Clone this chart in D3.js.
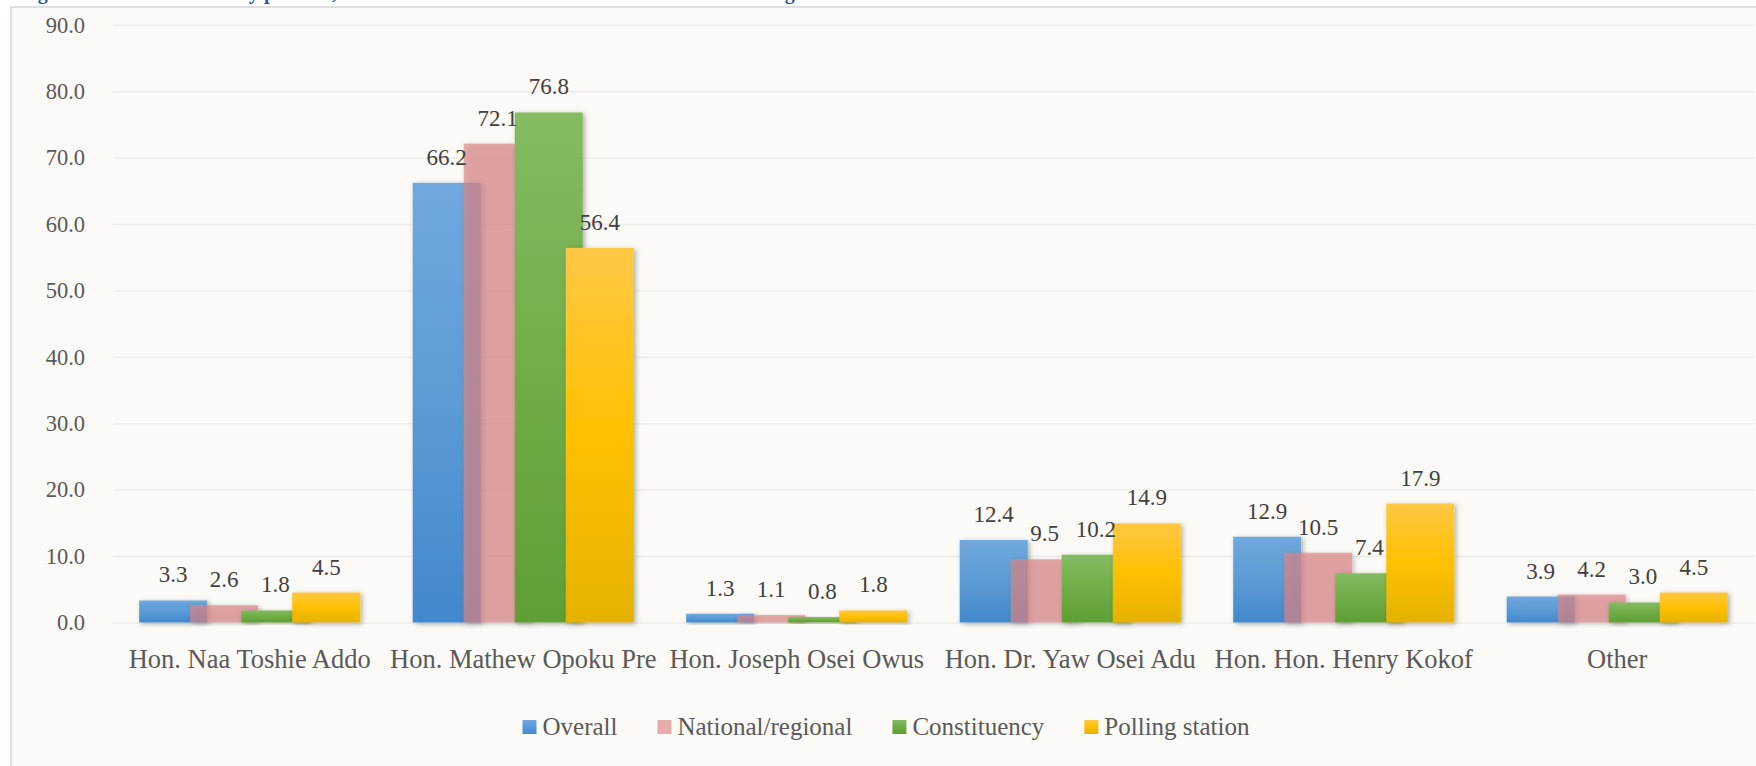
<!DOCTYPE html>
<html>
<head>
<meta charset="utf-8">
<script src="https://cdn.jsdelivr.net/npm/d3@7"></script>
<style>
  html, body { margin: 0; padding: 0; background: #ffffff; }
  svg { display: block; }
  svg text { font-family: "Liberation Serif", serif; }
</style>
</head>
<body>
<div id="chart"></div>
<script>
let width = 1756;
let height = 766;
const FONT = "Liberation Serif";

// Data
const categories = ["Hon. Naa Toshie Addo", "Hon. Mathew Opoku Pre", "Hon. Joseph Osei Owus",
  "Hon. Dr. Yaw Osei Adu", "Hon. Hon. Henry Kokof", "Other"];
const seriesNames = ["Overall", "National/regional", "Constituency", "Polling station"];
const overall = [3.3, 66.2, 1.3, 12.4, 12.9, 3.9];
const national = [2.6, 72.1, 1.1, 9.5, 10.5, 4.2];
const constituency = [1.8, 76.8, 0.8, 10.2, 7.4, 3.0];
const polling = [4.5, 56.4, 1.8, 14.9, 17.9, 4.5];
const yTicks = [0, 10, 20, 30, 40, 50, 60, 70, 80, 90];
const titleText = "Figure 8: Most voted MP by position, as rated at the national level and the local district region";

const series = [overall, national, constituency, polling];

let svg = d3.select("#chart").append("svg")
  .attr("width", width)
  .attr("height", height)
  .attr("font-family", FONT);

let defs = svg.append("defs");

// gradients for the bars
const grads = [
  { id: "gBlue", top: "#70a8dd", mid: "#5b9bd5", bot: "#4288cc" },
  { id: "gPink", top: "#dc8688", mid: "#dc8688", bot: "#dc8688" },
  { id: "gGreen", top: "#84bb63", mid: "#70ad47", bot: "#5e9f33" },
  { id: "gYellow", top: "#ffc745", mid: "#ffc000", bot: "#e5b200" }
];
grads.forEach(g => {
  let lg = defs.append("linearGradient").attr("id", g.id)
    .attr("x1", 0).attr("y1", 0).attr("x2", 0).attr("y2", 1);
  lg.append("stop").attr("offset", "0%").attr("stop-color", g.top);
  lg.append("stop").attr("offset", "50%").attr("stop-color", g.mid);
  lg.append("stop").attr("offset", "100%").attr("stop-color", g.bot);
});
const fills = ["url(#gBlue)", "url(#gPink)", "url(#gGreen)", "url(#gYellow)"];
const opac = [1, 0.68, 1, 1];

let shadow = defs.append("filter").attr("id", "shadow")
  .attr("x", "-20%").attr("y", "-20%").attr("width", "140%").attr("height", "140%");
shadow.append("feDropShadow").attr("dx", 2).attr("dy", 1.5)
  .attr("stdDeviation", 2.5).attr("flood-color", "#000").attr("flood-opacity", 0.3);

// title (cut off at top of the picture, as in the source)
svg.append("text")
  .attr("x", 20).attr("y", -1.5)
  .attr("fill", "#2f5597")
  .attr("font-family", FONT)
  .attr("font-size", 20)
  .attr("font-weight", "bold")
  .text(titleText);

// chart frame
svg.append("rect")
  .attr("x", 11).attr("y", 7)
  .attr("width", width + 10).attr("height", height + 10)
  .attr("fill", "#fcfaf6")
  .attr("stroke", "#d6d6d6")
  .attr("stroke-width", 1.5);

let plotLeft = 113, plotRight = 1754;
let plotTop = 24.8, plotBottom = 622.4;

// scales
var x = d3.scaleBand()
  .domain(categories)
  .range([plotLeft, plotRight]);

var y = d3.scaleLinear()
  .domain([0, 90])
  .range([plotBottom, plotTop]);

let band = x.bandwidth();
let barW = band / (3.25 + 0.77);
let step = barW * 0.75;
let groupW = step * 3 + barW;

// y axis with gridlines
let yAxis = svg.append("g")
  .attr("transform", `translate(${plotLeft},0)`)
  .call(d3.axisLeft(y)
    .tickValues(yTicks)
    .tickFormat(d3.format(".1f"))
    .tickSizeInner(-(plotRight - plotLeft))
    .tickSizeOuter(0)
    .tickPadding(28))
  .attr("font-family", FONT);
yAxis.select(".domain").remove();
yAxis.selectAll("line").attr("stroke", "#ececea").attr("stroke-width", 1.5);
yAxis.selectAll("text")
  .attr("fill", "#595959")
  .attr("font-size", 22.5)
  .attr("font-family", FONT);

// bars
series.forEach((vals, si) => {
  svg.append("g")
    .selectAll("rect")
    .data(vals)
    .enter()
    .append("rect")
    .attr("x", (d, i) => x(categories[i]) + (band - groupW) / 2 + si * step)
    .attr("y", d => y(d))
    .attr("width", barW)
    .attr("height", d => y(0) - y(d))
    .attr("fill", fills[si])
    .attr("fill-opacity", opac[si])
    .attr("filter", "url(#shadow)");
});

// baseline
svg.append("line")
  .attr("x1", plotLeft).attr("x2", plotRight)
  .attr("y1", y(0) + 1).attr("y2", y(0) + 1)
  .attr("stroke", "#bfbfbf")
  .attr("stroke-width", 3)
  .attr("filter", "url(#shadow)");

// data labels
series.forEach((vals, si) => {
  svg.append("g")
    .selectAll("text")
    .data(vals)
    .enter()
    .append("text")
    .attr("x", (d, i) => x(categories[i]) + (band - groupW) / 2 + si * step + barW / 2)
    .attr("y", d => y(d) - 18)
    .attr("text-anchor", "middle")
    .attr("fill", "#404040")
    .attr("font-family", FONT)
    .attr("font-size", 23)
    .text(d => d3.format(".1f")(d));
});

// category labels
let xAxis = svg.append("g")
  .attr("transform", `translate(0,${plotBottom})`)
  .call(d3.axisBottom(x).tickSize(0).tickPadding(0))
  .attr("font-family", FONT);
xAxis.select(".domain").remove();
xAxis.selectAll("text")
  .attr("dy", null)
  .attr("y", 668 - plotBottom)
  .attr("fill", "#595959")
  .attr("font-size", 26.5)
  .attr("font-family", FONT);

// legend
let legend = svg.append("g");
let items = legend.selectAll("g")
  .data(seriesNames)
  .enter()
  .append("g");
items.append("rect")
  .attr("width", 14).attr("height", 14)
  .attr("y", -7)
  .attr("fill", (d, i) => fills[i])
  .attr("fill-opacity", (d, i) => opac[i]);
items.append("text")
  .attr("x", 20)
  .attr("y", 8)
  .attr("fill", "#595959")
  .attr("font-family", FONT)
  .attr("font-size", 25)
  .text(d => d);

let cursor = 0;
let offsets = [];
items.each(function (d, i) {
  offsets.push(cursor);
  let w = d3.select(this).select("text").node().getComputedTextLength();
  cursor += 20 + w + 40;
});
cursor -= 40;
let legendStart = 886 - cursor / 2;
items.attr("transform", (d, i) => `translate(${legendStart + offsets[i]},727)`);
</script>
</body>
</html>
